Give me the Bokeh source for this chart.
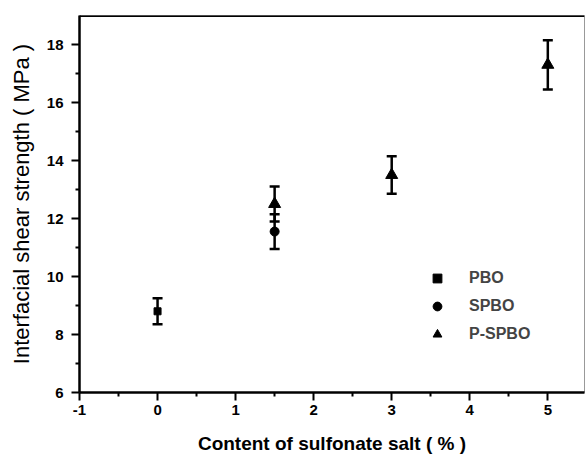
from bokeh.plotting import figure
from bokeh.models import (Whisker, ColumnDataSource, Range1d, Legend, LegendItem,
                          TeeHead, FixedTicker, Span)
from bokeh.embed import file_html
from bokeh.resources import INLINE

# data
pbo_x = [0.0]
pbo_y = [8.8]
pbo_err = [0.45]

spbo_x = [1.5]
spbo_y = [11.55]
spbo_err = [0.6]

pspbo_x = [1.5, 3.0, 5.0]
pspbo_y = [12.5, 13.5, 17.3]
pspbo_err = [0.6, 0.65, 0.85]

x_ticks = [-1, 0, 1, 2, 3, 4, 5]
y_ticks = [6, 8, 10, 12, 14, 16, 18]

FONT = "Liberation Sans"

p = figure(width=585, height=459, output_backend="svg", toolbar_location=None,
           x_range=Range1d(-1, 5.47), y_range=Range1d(6, 19),
           min_border_left=79, min_border_right=1, min_border_top=15, min_border_bottom=67)
p.background_fill_color = "white"
p.border_fill_color = "white"
p.xgrid.visible = False
p.ygrid.visible = False
p.outline_line_color = "#999999"
p.outline_line_width = 1


def mk_src(xs, ys, es):
    return ColumnDataSource(dict(x=xs, y=ys,
                                 lo=[y - e for y, e in zip(ys, es)],
                                 hi=[y + e for y, e in zip(ys, es)]))

src_pbo = mk_src(pbo_x, pbo_y, pbo_err)
src_spbo = mk_src(spbo_x, spbo_y, spbo_err)
src_pspbo = mk_src(pspbo_x, pspbo_y, pspbo_err)

for src in (src_pbo, src_spbo, src_pspbo):
    w = Whisker(source=src, base="x", lower="lo", upper="hi",
                line_color="black", line_width=2.5,
                upper_head=TeeHead(size=10, line_width=2.5, line_color="black"),
                lower_head=TeeHead(size=10, line_width=2.5, line_color="black"))
    p.add_layout(w)

r1 = p.scatter("x", "y", source=src_pbo, marker="square", size=7, color="black")
r2 = p.scatter("x", "y", source=src_spbo, marker="circle", size=9, color="black")
r3 = p.scatter("x", "y", source=src_pspbo, marker="triangle", size=12, color="black")

legend = Legend(items=[LegendItem(label="PBO", renderers=[r1]),
                       LegendItem(label="SPBO", renderers=[r2]),
                       LegendItem(label="P-SPBO", renderers=[r3])],
                location=(346, 47), border_line_color=None, background_fill_alpha=0,
                label_text_font=FONT, label_text_font_style="bold",
                label_text_font_size="16px", glyph_width=24, glyph_height=22,
                label_height=22, spacing=6, label_standoff=20, padding=0, margin=0)
p.add_layout(legend)

top_line = Span(location=19, dimension="width", line_color="black", line_width=3)
p.add_layout(top_line)

for ax in (p.xaxis[0], p.yaxis[0]):
    ax.axis_line_width = 2.5
    ax.axis_line_color = "black"
    ax.major_tick_line_width = 2
    ax.minor_tick_line_width = 2
    ax.major_tick_out = 8
    ax.major_tick_in = 0
    ax.minor_tick_out = 4
    ax.minor_tick_in = 0
    ax.major_label_text_font = FONT
    ax.major_label_text_font_style = "bold"
    ax.major_label_text_font_size = "15px"
    ax.major_label_text_color = "black"
    ax.axis_label_text_font = FONT
    ax.axis_label_text_color = "black"

p.xaxis.ticker = FixedTicker(ticks=x_ticks, minor_ticks=[-0.5, 0.5, 1.5, 2.5, 3.5, 4.5])
p.yaxis.ticker = FixedTicker(ticks=y_ticks, minor_ticks=[7, 9, 11, 13, 15, 17])
p.xaxis.major_label_overrides = {-1: "-1"}
p.xaxis.axis_label = "Content of sulfonate salt ( % )"
p.xaxis.axis_label_text_font_style = "bold"
p.xaxis.axis_label_text_font_size = "19px"
p.xaxis.axis_label_standoff = 15
p.xaxis.major_label_standoff = 4
p.yaxis.axis_label = "Interfacial shear strength ( MPa )"
p.yaxis.axis_label_text_font_style = "normal"
p.yaxis.axis_label_text_font_size = "22px"
p.yaxis.axis_label_standoff = 10
p.yaxis.major_label_standoff = 8

open("out.html", "w").write(file_html(p, INLINE))
